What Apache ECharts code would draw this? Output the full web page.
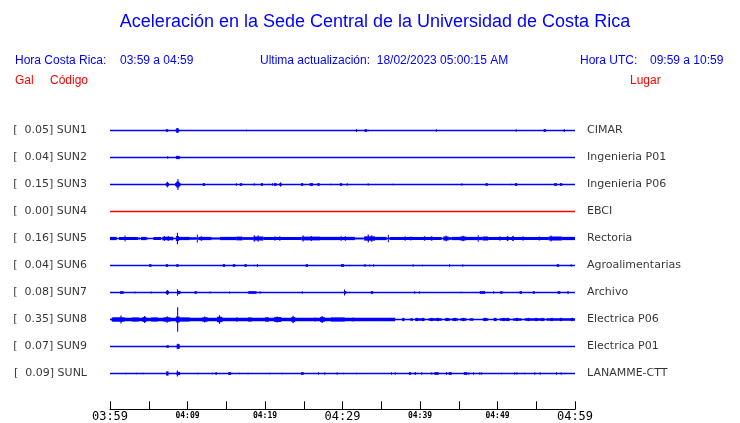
<!DOCTYPE html>
<html>
<head>
<meta charset="utf-8">
<script src="https://cdn.jsdelivr.net/npm/echarts@6/dist/echarts.min.js"></script>
<style>html,body{margin:0;padding:0;background:#fff}#c{width:740px;height:423px}</style>
</head>
<body>
<div id="c"></div>
<script>
// ---- data ----
const codes = ['SUN1','SUN2','SUN3','SUN4','SUN5','SUN6','SUN7','SUN8','SUN9','SUNL'];
const peaks = ['0.05','0.04','0.15','0.00','0.16','0.04','0.08','0.35','0.07','0.09'];
const places = ['CIMAR','Ingenieria P01','Ingenieria P06','EBCI','Rectoria','Agroalimentarias','Archivo','Electrica P06','Electrica P01','LANAMME-CTT'];
const traceColors = ['#0000ff','#0000ff','#0000ff','#ff0000','#0000ff','#0000ff','#0000ff','#0000ff','#0000ff','#0000ff'];
const xTickLabels = ['03:59','','04:09','','04:19','','04:29','','04:39','','04:49','','04:59'];
const bigTickLabels = ['03:59','04:29','04:59'];
// events: [startMinute, endMinute, halfAmplitude]
const sun1 = [[7.2,7.5,5],[8.55,8.85,9],[8.45,8.95,4],[17.55,17.68,3],[31.75,31.88,6],[32.85,33.15,5],[33.25,33.38,3],[42.05,42.18,5],[52.35,52.48,5],[55.95,56.25,5],[58.55,58.68,6]];
const sun2 = [[7.38,7.52,5],[8.52,9.0,6]];
const sun3 = [[7.2,7.6,6],[7.32,7.48,10],[8.4,9.1,6],[8.55,8.95,11],[8.7,8.84,20],[11.95,12.25,5],[16.25,16.38,5],[16.75,17.05,5],[18.55,18.68,5],[19.45,19.75,5],[20.45,20.58,3],[20.9,21.03,5],[21.15,21.5,5],[21.85,22.15,5],[21.93,22.07,8],[24.65,24.95,5],[25.75,26.2,5],[26.75,27.05,5],[28.4,28.6,3],[29.65,29.95,5],[30.55,30.68,5],[33.25,33.38,5],[36.45,36.58,3],[45.35,45.48,5],[48.45,48.75,5],[51.65,51.78,3],[52.25,52.55,5],[57.3,57.65,5],[58.05,58.35,5]];
const sun4 = [];
const sun5 = [[0,0.86,6],[1.16,3.66,5.5],[1.88,2.0,11],[3.75,3.85,4],[4.0,4.73,6],[4.8,4.92,4],[5.6,6.6,5.5],[6.75,8.17,6.5],[6.95,7.05,9],[7.45,7.55,9],[8.5,8.9,9],[8.63,8.77,21],[8.9,10.3,6],[10.3,11.2,4.5],[11.2,11.33,15],[11.4,13.1,6],[11.7,11.9,8],[13.1,14.2,3.5],[14.2,16.3,6],[16.3,17.1,7],[17.1,18.5,5],[18.5,19.8,7.5],[18.55,18.68,12],[19.05,19.18,12],[19.8,24.7,6],[21.2,21.4,7.5],[21.8,22.0,7.5],[24.7,27.1,7],[24.85,24.98,11],[25.9,26.05,9],[27.1,29.7,6],[29.7,31.6,6],[29.75,29.9,8],[30.3,30.45,8],[31.6,32.7,3],[32.8,34.2,8],[33.25,33.4,15],[33.7,33.85,12],[34.2,35.7,6],[35.85,35.98,14],[36.1,42.8,6],[38.0,38.2,7.5],[38.7,38.9,7],[40.5,40.7,8],[41.4,41.6,8],[43.0,43.7,7.5],[43.3,43.45,10],[43.7,44.1,5],[44.1,47.5,6],[45.2,45.9,7.5],[45.5,45.65,10],[47.45,47.58,12],[47.6,48.1,6],[48.1,48.8,7.5],[48.8,56.6,6],[50.2,50.4,7.5],[51.2,51.4,9],[51.9,52.1,9],[53.2,53.4,7],[55.3,55.5,7],[56.6,58.3,7.5],[56.85,56.98,11],[58.3,60,6]];
const sun6 = [[5.05,5.35,5],[7.2,7.5,5],[8.55,8.85,5],[14.55,14.85,5],[15.85,16.15,5],[17.35,17.65,5],[18.55,18.68,3],[18.95,19.1,5],[25.25,25.55,5],[29.8,30.2,5],[30.85,30.98,3],[32.75,33.05,4],[33.45,33.58,4],[33.95,34.08,5],[39.05,39.18,5],[40.25,40.38,3],[43.75,43.88,5],[45.45,45.58,5],[57.65,57.95,5],[59.45,59.58,5]];
const sun7 = [[1.3,1.75,5],[3.15,3.28,4],[5.25,5.38,4],[7.2,7.6,6],[7.33,7.47,9],[8.65,8.78,12],[8.7,9.1,6],[10.9,11.2,5],[12.85,12.98,4],[15.35,15.48,4],[17.85,18.9,5],[19.3,19.42,5],[24.75,24.88,5],[30.2,30.33,11],[30.2,30.5,5],[30.85,30.98,3],[33.65,33.95,5],[39.25,39.38,5],[39.85,39.98,5],[45.25,45.4,3],[47.7,48.4,5],[49.45,49.58,5],[50.35,50.65,5],[52.85,53.15,5],[54.55,54.8,5],[57.75,58.1,5],[59.0,59.2,5]];
const sun8 = [[0.2,36.8,6.5],[0.3,1.9,8],[1.35,1.5,15],[2.8,3.7,7.5],[4.2,4.7,9],[4.4,4.55,13],[5.3,6.2,7.5],[6.9,7.8,8],[7.3,7.45,12],[8.5,9.0,11],[8.66,8.8,45],[9.0,10.3,7.5],[11.9,12.6,8],[12.15,12.3,11],[13.8,14.5,10],[14.05,14.2,16],[16.3,16.45,8],[17.8,18.3,7.5],[20.0,20.5,8],[21.2,22.1,9],[21.5,21.65,11],[23.4,23.9,9],[23.55,23.7,14],[26.4,26.55,7.5],[27.1,27.7,9],[27.3,27.45,13],[28.5,30.3,7.5],[31.3,31.45,7.5],
  [37.7,38.0,6],[38.7,39.1,4.5],[39.35,40.6,4.5],[41.1,42.8,4.5],[43.2,43.9,4.5],[44.1,44.9,4.5],[45.2,46.0,4.5],[46.4,46.9,4.5],[48.1,48.8,4.5],[49.5,49.9,4.5],[50.3,51.6,4.5],[52.0,53.1,4.5],[53.5,56.1,4.5],[56.3,60,4.5],
  [39.45,39.75,6],[40.25,40.55,6],[41.35,41.65,6],[42.15,42.45,6],[43.35,43.65,6],[44.35,44.65,6],[45.45,45.75,6],[48.25,48.55,6],[49.55,49.85,6],[50.65,50.95,6],[51.15,51.45,6],[52.35,52.65,6],[53.85,54.15,6],[54.85,55.15,6],[55.65,55.95,6],[56.85,57.15,6],[58.05,58.35,6],[59.45,59.75,6]];
const sun9 = [[7.3,7.58,5],[8.6,9.0,8.5],[8.7,8.84,10]];
const sunl = [[1.95,2.05,3],[3.35,3.45,3],[3.95,4.05,3],[4.25,4.35,3],[7.25,7.55,8],[8.62,8.76,11],[8.6,9.05,6],[11.25,11.35,3],[13.15,13.25,3],[13.6,13.8,5],[15.25,15.65,5],[16.65,16.75,3],[17.75,17.85,3],[20.55,20.65,3],[22.15,22.25,3],[24.65,25.0,5],[26.85,26.95,5],[27.65,27.75,5],[29.25,29.35,5],[30.05,30.15,3],[31.75,31.85,3],[36.25,36.35,5],[36.75,36.85,5],[38.55,38.85,5],[39.3,39.5,5],[40.15,40.25,5],[41.45,41.55,5],[41.85,42.4,5],[43.35,43.5,5],[43.7,44.1,5],[45.65,46.1,5],[46.25,46.35,5],[46.85,46.95,5],[47.65,47.75,5],[47.9,48.0,5],[50.45,50.55,3],[52.15,52.25,5],[52.45,52.55,5],[53.45,53.55,3],[54.75,54.85,5],[55.45,55.55,5],[57.55,57.65,5],[58.15,58.25,5],[58.65,58.75,3]];
const traces = [sun1,sun2,sun3,sun4,sun5,sun6,sun7,sun8,sun9,sunl];
const rowStep = 100;

// ---- chart ----
const chart = echarts.init(document.getElementById('c'), null, {renderer:'canvas'});
const blue = '#0000ff', red = '#ff0000';
function txt(x, y, s, color, align, size){
  return {type:'text', x:x, y:y, style:{text:s, fill:color, font:(size||12)+'px "Liberation Sans", Arial, sans-serif', textAlign:align||'left', textVerticalAlign:'middle'}};
}
const gridTop = 103.5, gridBottom = 13.7, rowPx = 27;
const plotH = 423 - gridTop - gridBottom;
const series = [];
traces.forEach(function(ev, i){
  const base = i*rowStep;
  series.push({
    type:'line', silent:true, symbol:'none', data:[[0,base],[60,base]],
    lineStyle:{color:traceColors[i], width:1.3}, z:2, animation:false
  });
  series.push({
    type:'custom', silent:true, data:ev, z:3, animation:false,
    encode:{x:[0,1], y:2},
    renderItem:function(params, api){
      const t0=api.value(0), t1=api.value(1), a=api.value(2);
      const p0=api.coord([t0, base-a]), p1=api.coord([t1, base+a]);
      const x=Math.min(p0[0],p1[0]);
      const w=Math.max(1, Math.abs(p1[0]-p0[0]));
      const y=Math.min(p0[1],p1[1]);
      const h=Math.max(1, Math.abs(p1[1]-p0[1]));
      return {type:'rect', shape:{x:x, y:y, width:w, height:h}, style:{fill:traceColors[i]}};
    }
  });
});
const leftData = codes.map(function(c,i){ return [0, i*rowStep, '[  ' + peaks[i] + '] ' + c]; });
const rightData = places.map(function(p,i){ return [60, i*rowStep, p]; });
const lblStyle = {color:'#000', fontFamily:'DejaVu Sans', fontSize:11};
series.push({type:'scatter', silent:true, symbolSize:1, itemStyle:{color:'rgba(0,0,0,0)'}, data:leftData, animation:false,
  label:Object.assign({show:true, position:'left', distance:22.5, formatter:function(p){return p.value[2];}}, lblStyle)});
series.push({type:'scatter', silent:true, symbolSize:1, itemStyle:{color:'rgba(0,0,0,0)'}, data:rightData, animation:false,
  label:Object.assign({show:true, position:'right', distance:11.5, formatter:function(p){return p.value[2];}}, lblStyle)});

chart.setOption({
  animation:false,
  grid:{left:110, right:165, top:gridTop, bottom:gridBottom, containLabel:false},
  xAxis:{type:'value', min:0, max:60, interval:5,
    axisLine:{onZero:false, lineStyle:{color:'#000', width:1}},
    axisTick:{inside:true, length:8, lineStyle:{color:'#000'}},
    splitLine:{show:false},
    axisLabel:{interval:0, margin:1, showMinLabel:true, showMaxLabel:true,
      formatter:function(v){
        const s = xTickLabels[Math.round(v/5)] || '';
        if(!s) return '';
        return bigTickLabels.indexOf(s)>=0 ? '{big|'+s+'}' : '{small|'+s+'}';
      },
      rich:{
        big:{fontFamily:'DejaVu Sans Mono', fontSize:12, color:'#000', lineHeight:13},
        small:{fontFamily:'DejaVu Sans Mono', fontSize:8, fontWeight:'bold', color:'#000', lineHeight:12}
      }
    }
  },
  yAxis:{type:'value', inverse:true, min:-rowStep, max:rowStep*(plotH/rowPx-1), show:false},
  graphic:[
    txt(375, 22, 'Aceleración en la Sede Central de la Universidad de Costa Rica', blue, 'center', 18),
    txt(15, 61, 'Hora Costa Rica:', blue),
    txt(120, 61, '03:59 a 04:59', blue),
    txt(260, 61, 'Ultima actualización:  18/02/2023 05:00:15 AM', blue),
    txt(580, 61, 'Hora UTC:', blue),
    txt(650, 61, '09:59 a 10:59', blue),
    txt(15, 81, 'Gal', red),
    txt(50, 81, 'Código', red),
    txt(630, 81, 'Lugar', red)
  ],
  series:series
});
</script>
</body>
</html>
